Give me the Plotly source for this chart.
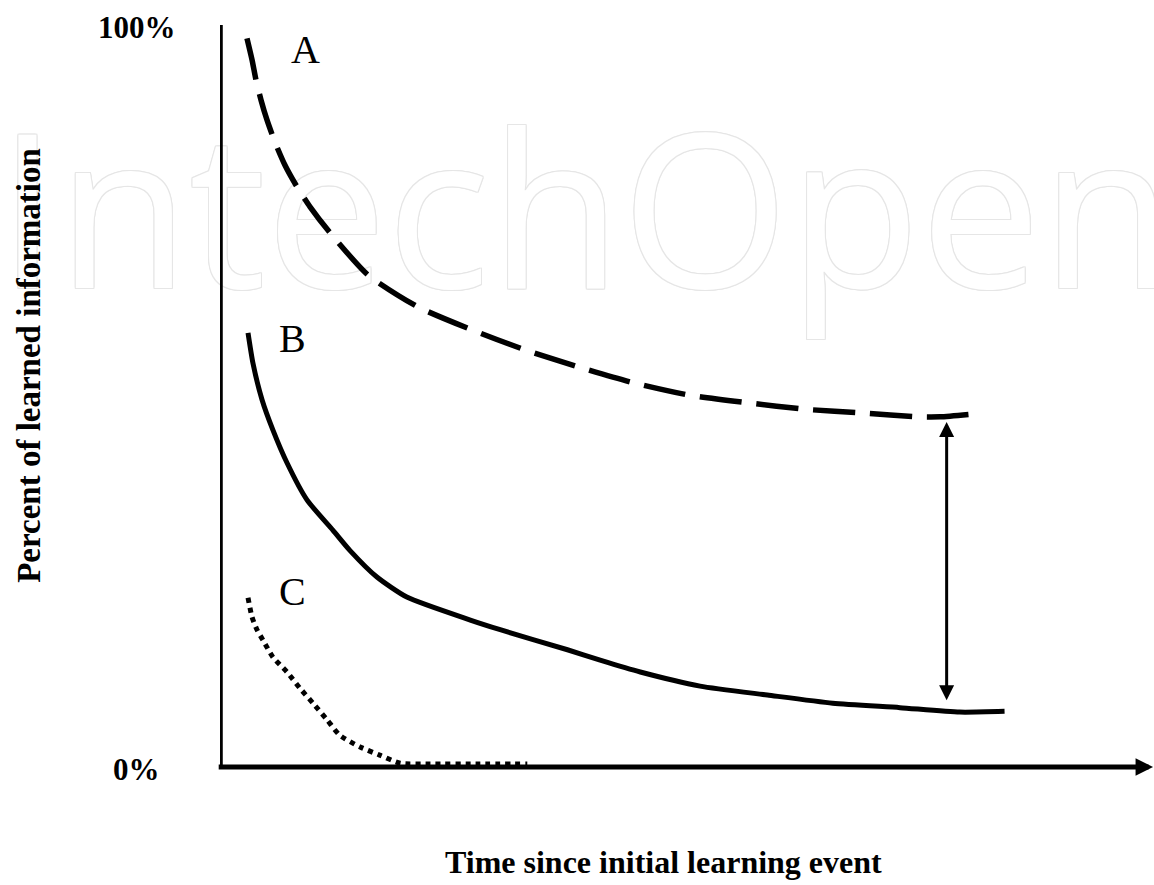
import plotly.graph_objects as go

# ---- data (time in arbitrary units, retention in %) ----
a_time = [2.89, 3.43, 3.85, 4.39, 5.03, 5.89, 6.96, 8.24, 9.64, 11.78, 15.85, 21.2, 27.0, 32.7,
          38.4, 44.2, 50.3, 56.4, 62.8, 68.8, 74.9, 77.1, 80.8]
a_pct = [98.2, 95.3, 92.6, 89.9, 87.2, 84.2, 81.1, 78.2, 75.5, 72.0, 66.3, 62.0, 58.9, 56.2,
         53.9, 51.8, 50.1, 49.1, 48.2, 47.7, 47.2, 47.2, 47.6]

b_time = [3.0, 3.53, 4.50, 5.67, 7.17, 9.31, 12.1, 13.9, 16.8, 20.0, 26.8, 30.0, 37.2, 40.7,
          45.0, 51.4, 58.6, 65.6, 72.8, 79.2, 84.0]
b_pct = [58.5, 54.4, 49.5, 45.4, 41.0, 36.0, 31.9, 29.2, 25.6, 22.9, 19.8, 18.5, 15.8, 14.4,
         12.8, 10.9, 9.7, 8.6, 8.0, 7.4, 7.5]

c_time = [3.0, 3.43, 3.96, 4.60, 5.67, 7.17, 8.57, 9.96, 11.5, 12.8, 15.0, 17.1, 19.3, 22.5,
          27.8, 32.9]
c_pct = [22.8, 20.2, 18.5, 17.1, 14.8, 12.8, 10.6, 8.6, 6.3, 4.3, 2.7, 1.6, 0.5, 0.4, 0.4, 0.4]

curve_labels = ["A", "B", "C"]
label_pos_time = [9.2, 7.8, 7.8]
label_pos_pct = [96.7, 57.7, 23.7]

gap_time = 77.8
gap_top = 46.5
gap_bottom = 8.8

tick_vals = [0, 100]
tick_text = ["0%", "100%"]

x_title = "Time since initial learning event"
y_title = "Percent of learned information"
watermark = "IntechOpen"

SERIF = "Liberation Serif, Times New Roman, serif"

fig = go.Figure()

# faint watermark (outline look via text shadow)
wm_col = "#e6e6e6"
shadow = ", ".join(f"{dx}px {dy}px 0 {wm_col}" for dx, dy in
                   [(1, 0), (-1, 0), (0, 1), (0, -1), (1, 1), (-1, -1), (1, -1), (-1, 1)])
fig.add_trace(go.Scatter(
    x=[39.1], y=[71.8], mode="text", text=[watermark], cliponaxis=False,
    textposition="middle center", hoverinfo="skip",
    textfont=dict(family="Open Sans", size=215, color="white", shadow=shadow),
))

fig.add_trace(go.Scatter(x=a_time, y=a_pct, mode="lines", hoverinfo="skip",
                         line=dict(color="black", width=5.5, dash="42px,15px", shape="spline", smoothing=0.6)))
fig.add_trace(go.Scatter(x=b_time, y=b_pct, mode="lines", hoverinfo="skip",
                         line=dict(color="black", width=5, shape="spline", smoothing=0.6)))
fig.add_trace(go.Scatter(x=c_time, y=c_pct, mode="lines", hoverinfo="skip",
                         line=dict(color="black", width=5, dash="5px,5px", shape="spline", smoothing=0.6)))

annotations = []
for lab, tx, ty in zip(curve_labels, label_pos_time, label_pos_pct):
    annotations.append(dict(x=tx, y=ty, xref="x", yref="y", text=lab, showarrow=False,
                            xanchor="center", yanchor="middle",
                            font=dict(family=SERIF, size=40, color="black")))

# double-headed arrow showing the retention gap
annotations.append(dict(x=gap_time, y=gap_top, ax=gap_time, ay=gap_bottom, xref="x", yref="y",
                        axref="x", ayref="y", text="", showarrow=True, arrowhead=2, startarrowhead=2,
                        arrowside="end+start", arrowsize=1, startarrowsize=1, arrowwidth=3,
                        arrowcolor="black", standoff=0, startstandoff=0))

# x axis drawn as an arrow
annotations.append(dict(x=99.9, y=0, ax=-0.3, ay=0, xref="x", yref="y", axref="x", ayref="y",
                        text="", showarrow=True, arrowhead=2, arrowsize=0.7, arrowwidth=5,
                        arrowcolor="black", standoff=0))

# tick labels
tick_paper_y = {0: -0.0027, 100: 0.996}
for v, t in zip(tick_vals, tick_text):
    annotations.append(dict(x=-0.0889, y=tick_paper_y[v], xref="paper", yref="paper", text=f"<b>{t}</b>",
                            xanchor="center", yanchor="middle", showarrow=False,
                            font=dict(family=SERIF, size=31, color="black")))

annotations.append(dict(x=0.475, y=-0.128, xref="paper", yref="paper", text=f"<b>{x_title}</b>",
                        xanchor="center", yanchor="middle", showarrow=False,
                        font=dict(family=SERIF, size=32, color="black")))
annotations.append(dict(x=-0.2045, y=0.542, xref="paper", yref="paper", text=f"<b>{y_title}</b>",
                        xanchor="center", yanchor="middle", textangle=-90, showarrow=False,
                        font=dict(family=SERIF, size=33, color="black")))

fig.update_layout(
    width=1154, height=885,
    margin=dict(l=220, r=0, t=25, b=118),
    paper_bgcolor="white", plot_bgcolor="white",
    showlegend=False,
    annotations=annotations,
    shapes=[dict(type="line", xref="x", yref="y", x0=0.03, x1=0.03, y0=-0.3, y1=100,
                 line=dict(color="black", width=5))],
    xaxis=dict(range=[0, 100], showgrid=False, zeroline=False, showticklabels=False,
               ticks="", showline=False, fixedrange=True),
    yaxis=dict(range=[0, 100], showgrid=False, zeroline=False, showticklabels=False,
               ticks="", showline=False, fixedrange=True),
)

fig.write_html("out.html", config={"displayModeBar": False},
               post_script="document.body.style.margin='0';")
